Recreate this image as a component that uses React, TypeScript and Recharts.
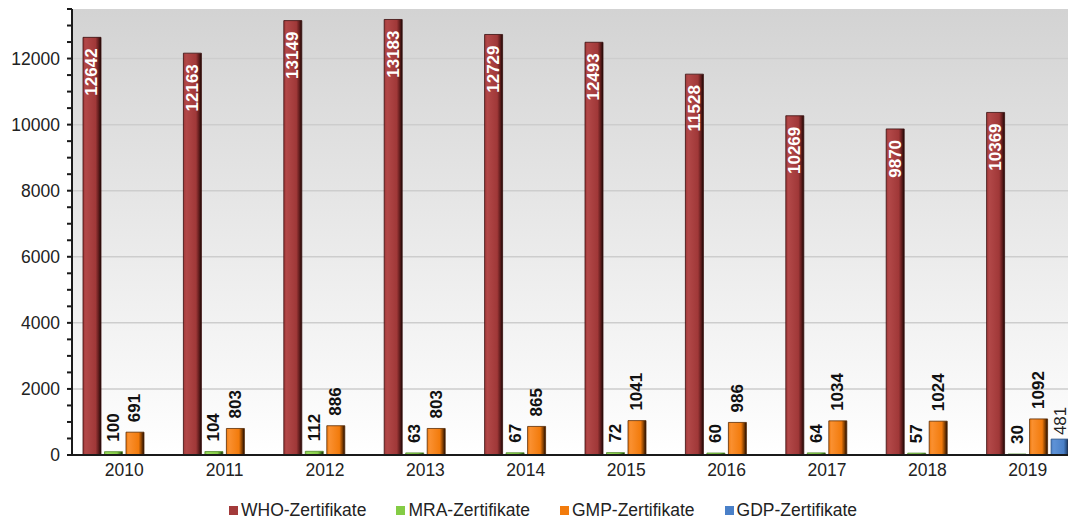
import React from 'react';
import { BarChart, Bar, XAxis, YAxis, CartesianGrid, LabelList } from 'recharts';

const years = ['2010', '2011', '2012', '2013', '2014', '2015', '2016', '2017', '2018', '2019'];
const whoValues = [12642, 12163, 13149, 13183, 12729, 12493, 11528, 10269, 9870, 10369];
const mraValues = [100, 104, 112, 63, 67, 72, 60, 64, 57, 30];
const gmpValues = [691, 803, 886, 803, 865, 1041, 986, 1034, 1024, 1092];
const gdpValues = [null, null, null, null, null, null, null, null, null, 481];

const yTicks = Array.from({ length: 28 }, (_, i) => i * 500);
const gridValues = [2000, 4000, 6000, 8000, 10000, 12000];

const series = [
  { key: 'who', name: 'WHO-Zertifikate', color: '#a33a3a', grad: 'gWho', edge: '#3a0e0e' },
  { key: 'mra', name: 'MRA-Zertifikate', color: '#84cc45', grad: 'gMra', edge: '#4f8a26' },
  { key: 'gmp', name: 'GMP-Zertifikate', color: '#f27b0c', grad: 'gGmp', edge: '#5a2c05' },
  { key: 'gdp', name: 'GDP-Zertifikate', color: '#4a80c8', grad: 'gGdp', edge: '#2a4f80' },
];

const data = years.map((year, i) => ({
  year,
  who: whoValues[i],
  mra: mraValues[i],
  gmp: gmpValues[i],
  gdp: gdpValues[i],
}));

const FONT = '"Liberation Sans", Arial, sans-serif';

const renderYTick = (props: any) => {
  const { x, y, payload } = props;
  if (payload.value % 2000 !== 0) return <g />;
  return (
    <text x={x} y={y} textAnchor="end" dominantBaseline="central" fontSize={17.5} fontFamily={FONT} fill="#222">
      {payload.value}
    </text>
  );
};

const renderXTick = (props: any) => {
  const { x, y, payload } = props;
  return (
    <text x={x} y={y} dy={13} textAnchor="middle" fontSize={17.5} fontFamily={FONT} fill="#222">
      {payload.value}
    </text>
  );
};

const rotatedLabel = (inside: boolean, fill: string, weight: string) => (props: any) => {
  const { x, y, width, value } = props;
  if (value == null) return null;
  const cx = Number(x) + Number(width) / 2;
  const ty = inside ? Number(y) + 11 : Number(y) - (weight === 'bold' ? 10 : 4);
  return (
    <text
      x={cx}
      y={ty}
      transform={`rotate(-90 ${cx} ${ty})`}
      textAnchor={inside ? 'end' : 'start'}
      dominantBaseline="central"
      fontSize={17}
      fontWeight={weight}
      fontFamily={FONT}
      fill={fill}
    >
      {value}
    </text>
  );
};

const barGradient = (id: string, light: string, mid: string, dark: string) => (
  <linearGradient id={id} x1="0" y1="0" x2="1" y2="0">
    <stop offset="0%" stopColor={mid} />
    <stop offset="15%" stopColor={light} />
    <stop offset="70%" stopColor={mid} />
    <stop offset="88%" stopColor={dark} />
    <stop offset="100%" stopColor="#1a0a05" />
  </linearGradient>
);

export default function App() {
  return (
    <div style={{ position: 'fixed', left: 0, top: 0, width: 1068, height: 523, overflow: 'hidden', background: '#fff' }}>
      <BarChart
        width={1078}
        height={490}
        data={data}
        margin={{ top: 9, right: 0, left: 0, bottom: 5 }}
        barSize={18}
        barGap={3.5}
      >
        <defs>
          <linearGradient id="bgGrad" x1="0" y1="0" x2="0" y2="1">
            <stop offset="0%" stopColor="#d3d3d3" />
            <stop offset="100%" stopColor="#ffffff" />
          </linearGradient>
          {barGradient('gWho', '#b24848', '#a03838', '#5a1a1a')}
          {barGradient('gMra', '#9adc5c', '#84cc45', '#3f7a1c')}
          {barGradient('gGmp', '#fa9030', '#f27b0c', '#7a3a00')}
          {barGradient('gGdp', '#5e92d6', '#4a80c8', '#24487a')}
        </defs>
        <CartesianGrid
          fill="url(#bgGrad)"
          vertical={false}
          horizontalValues={gridValues}
          stroke="#cdcdcd"
          strokeWidth={1.5}
        />
        <XAxis
          dataKey="year"
          height={30}
          padding={{ left: 2, right: 0 }}
          tickLine={false}
          axisLine={{ stroke: '#1a1a1a', strokeWidth: 2 }}
          tick={renderXTick}
          interval={0}
        />
        <YAxis
          width={72}
          domain={[0, 13500]}
          ticks={yTicks}
          interval={0}
          tickSize={5}
          tickMargin={7}
          tickLine={{ stroke: '#1a1a1a', strokeWidth: 2 }}
          axisLine={{ stroke: '#1a1a1a', strokeWidth: 2 }}
          tick={renderYTick}
        />
        {series.map((s) => (
          <Bar
            key={s.key}
            dataKey={s.key}
            name={s.name}
            fill={`url(#${s.grad})`}
            stroke={s.edge}
            strokeWidth={0.8}
            isAnimationActive={false}
          >
            <LabelList
              dataKey={s.key}
              content={
                s.key === 'who'
                  ? rotatedLabel(true, '#ffffff', 'bold')
                  : s.key === 'gdp'
                  ? rotatedLabel(false, '#222', 'normal')
                  : rotatedLabel(false, '#111', 'bold')
              }
            />
          </Bar>
        ))}
      </BarChart>
      <div
        style={{
          position: 'absolute',
          left: 229,
          top: 500,
          display: 'flex',
          gap: 30,
          fontFamily: FONT,
          fontSize: 17.5,
          color: '#222',
          lineHeight: '20px',
        }}
      >
        {series.map((s) => (
          <div key={s.key} style={{ display: 'flex', alignItems: 'center' }}>
            <span style={{ width: 9, height: 9, background: s.color, marginRight: 3, display: 'inline-block' }} />
            <span>{s.name}</span>
          </div>
        ))}
      </div>
    </div>
  );
}
